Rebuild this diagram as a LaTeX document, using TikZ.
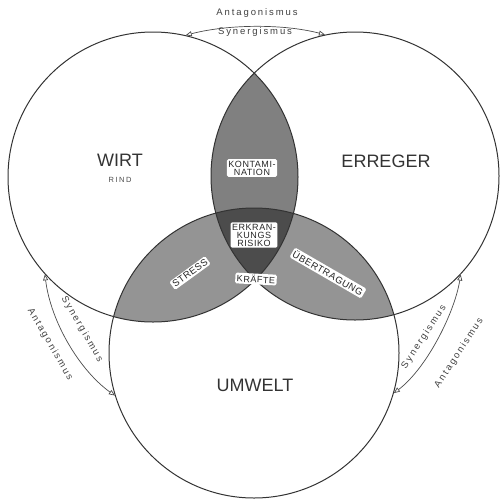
\documentclass[tikz,border=0pt]{standalone}
\usepackage{fontspec}
\setmainfont{Liberation Sans}
\newfontfamily\spaced[LetterSpace=20]{Liberation Sans}
\newfontfamily\boxfont[LetterSpace=6]{Liberation Sans}
\usetikzlibrary{arrows.meta}
\begin{document}
\begin{tikzpicture}[x=1pt,y=-1pt,
  ring/.style={circle, draw=black!80, line width=1pt, inner sep=0pt},
  big/.style={font=\fontsize{18}{20}\selectfont, text=black!80, inner sep=1pt},
  small/.style={font=\spaced\fontsize{7.5}{9}\selectfont, text=black!70, inner sep=1pt},
  tag/.style={fill=white, rounded corners=1.5pt, inner sep=1.6pt, font=\boxfont\fontsize{9}{10}\selectfont, align=center, text=black!85},
  arr/.style={draw=black!70, line width=0.7pt, {Triangle[open,length=6pt,width=5pt]}-{Triangle[open,length=6pt,width=5pt]}},
  rel/.style={font=\spaced\fontsize{9.5}{11}\selectfont, text=black!75, inner sep=0.5pt}]
\useasboundingbox (0,0) rectangle (500,498);
% shaded intersections
\begin{scope}\clip (153,177) circle (145); \fill[black!50] (355,176) circle (144); \end{scope}
\begin{scope}\clip (153,177) circle (145); \fill[black!42] (254,353) circle (145); \end{scope}
\begin{scope}\clip (355,176) circle (144); \fill[black!42] (254,353) circle (145); \end{scope}
\begin{scope}\clip (153,177) circle (145); \clip (355,176) circle (144); \fill[black!70] (254,353) circle (145); \end{scope}
% circles
\node[ring, minimum size=290pt] (A) at (153,177) {};
\node[ring, minimum size=288pt] (B) at (355,176) {};
\node[ring, minimum size=290pt] (C) at (254,353) {};
% main labels
\node[big] (wirt) at (120,160) {WIRT};
\node[small] (rind) at (120,180) {RIND};
\node[big] (erreger) at (386,161) {ERREGER};
\node[big] (umwelt) at (255,385) {UMWELT};
% region labels
\node[tag] (kont) at (252,168) {KONTAMI-\\[-2pt]NATION};
\node[tag] (risk) at (254,235) {ERKRAN-\\[-2pt]KUNGS\\[-2pt]RISIKO};
\node[tag, rotate=-3] (kraft) at (256,279) {KRÄFTE};
\node[tag, rotate=36, font=\boxfont\fontsize{9.5}{11}\selectfont] (stress) at (190,273) {STRESS};
\node[tag, rotate=-30, font=\boxfont\fontsize{9.5}{11}\selectfont] (ueber) at (328,273) {ÜBERTRAGUNG};
% arrows
\draw[arr] (A.77) .. controls +(42,-11) and +(-42,-11) .. (B.102);
\draw[arr] (A.222) .. controls +(6,48) and +(-35,-25) .. (C.197);
\draw[arr] (B.317) .. controls +(-6,38) and +(33,-25) .. (C.344);
% arrow labels
\node[rel] (tant) at (257,13) {Antagonismus};
\node[rel] (tsyn) at (255,32) {Synergismus};
\node[rel, rotate=-60] (lsyn) at (82,329) {Synergismus};
\node[rel, rotate=-60] (lant) at (50,344) {Antagonismus};
\node[rel, rotate=57] (rsyn) at (424,337) {Synergismus};
\node[rel, rotate=57] (rant) at (459,353) {Antagonismus};
\end{tikzpicture}
\end{document}
